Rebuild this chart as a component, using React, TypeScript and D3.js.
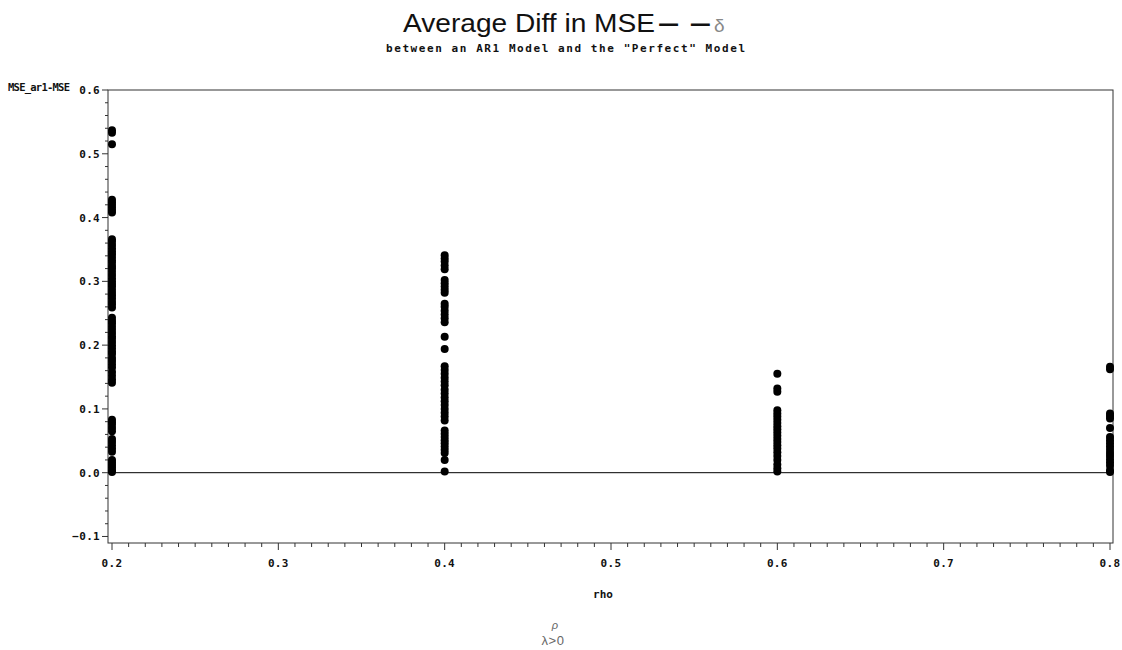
import React from "react";
import * as d3 from "d3";

// Simulated differences in MSE (AR1 fit minus the "perfect" model), grouped by rho
const rhoLevels = [0.2, 0.4, 0.6, 0.8];

const diffRho02 = [
  0.537, 0.533, 0.515, 0.428, 0.424, 0.42, 0.416, 0.412, 0.408, 0.366, 0.362,
  0.357, 0.352, 0.347, 0.343, 0.338, 0.333, 0.329, 0.324, 0.32, 0.315, 0.31,
  0.305, 0.3, 0.296, 0.292, 0.287, 0.282, 0.278, 0.273, 0.268, 0.264, 0.259,
  0.243, 0.238, 0.234, 0.229, 0.224, 0.219, 0.214, 0.21, 0.205, 0.2, 0.195,
  0.19, 0.186, 0.18, 0.175, 0.17, 0.165, 0.158, 0.152, 0.146, 0.141, 0.083,
  0.079, 0.075, 0.07, 0.065, 0.053, 0.048, 0.043, 0.038, 0.033, 0.02, 0.016,
  0.012, 0.008, 0.004, 0.001,
];
const diffRho04 = [
  0.341, 0.336, 0.331, 0.325, 0.319, 0.302, 0.297, 0.292, 0.287, 0.282, 0.265,
  0.26, 0.254, 0.248, 0.242, 0.236, 0.213, 0.194, 0.167, 0.161, 0.155, 0.149,
  0.143, 0.137, 0.13, 0.124, 0.118, 0.112, 0.106, 0.1, 0.094, 0.088, 0.082,
  0.066, 0.061, 0.056, 0.051, 0.046, 0.041, 0.036, 0.031, 0.02, 0.002,
];
const diffRho06 = [
  0.155, 0.132, 0.127, 0.098, 0.093, 0.088, 0.083, 0.078, 0.073, 0.068, 0.063,
  0.058, 0.053, 0.048, 0.043, 0.038, 0.032, 0.026, 0.02, 0.013, 0.007, 0.002,
];
const diffRho08 = [
  0.166, 0.162, 0.093, 0.089, 0.085, 0.07, 0.056, 0.051, 0.046, 0.041, 0.036,
  0.031, 0.026, 0.021, 0.016, 0.011, 0.004, 0.001,
];
const diffsByRho = [diffRho02, diffRho04, diffRho06, diffRho08];

const xTickValues = [0.2, 0.3, 0.4, 0.5, 0.6, 0.7, 0.8];
const yTickValues = [-0.1, 0, 0.1, 0.2, 0.3, 0.4, 0.5, 0.6];

const W = 1122;
const H = 650;
const frame = { left: 108, right: 1113, top: 90, bottom: 543 };

const mono = "'DejaVu Sans Mono', 'Liberation Mono', monospace";
const sans = "'Liberation Sans', Arial, sans-serif";

export default function App() {
  const x = d3.scaleLinear().domain([0.2, 0.8]).range([112, 1110]);
  const y = d3.scaleLinear().domain([0, 0.6]).range([472.7, frame.top]);

  const points = diffsByRho.flatMap((vals, i) =>
    vals.map((v) => ({ rho: rhoLevels[i], v }))
  );

  const xMinor = d3.range(20, 81).map((k) => k / 100).filter((t) => Math.round(t * 100) % 10 !== 0);
  const yMinor = d3.range(-5, 31).map((k) => k / 50).filter((t) => Math.round(t * 50) % 5 !== 0);

  const axisColor = "#333";

  return (
    <svg
      width={W}
      height={H}
      style={{ position: "absolute", left: 0, top: 0, background: "#fff" }}
    >
      {/* titles */}
      <text x={403} y={32} fontFamily={sans} fontSize={25} textLength={252} lengthAdjust="spacingAndGlyphs" fill="#111">
        Average Diff in MSE
      </text>
      <text x={658} y={32} fontFamily={sans} fontSize={25} fontWeight="bold" textLength={53} lengthAdjust="spacingAndGlyphs" fill="#111">
        – –
      </text>
      <text x={714} y={32} fontFamily={sans} fontSize={19} fill="#888">
        δ
      </text>
      <text x={386} y={52} fontFamily={mono} fontSize={11} fontWeight="bold" textLength={359} lengthAdjust="spacing" fill="#111">
        between an AR1 Model and the "Perfect" Model
      </text>

      {/* y axis label */}
      <text x={8} y={91} fontFamily={mono} fontSize={10.5} fontWeight="bold" textLength={62} lengthAdjust="spacing" fill="#111">
        MSE_ar1-MSE
      </text>

      {/* frame */}
      <rect
        x={frame.left}
        y={frame.top}
        width={frame.right - frame.left}
        height={frame.bottom - frame.top}
        fill="none"
        stroke={axisColor}
        strokeWidth={1}
      />

      {/* zero reference line */}
      <line x1={frame.left} x2={frame.right} y1={y(0)} y2={y(0)} stroke="#000" strokeWidth={1} />

      {/* y ticks */}
      {yMinor.map((t) => (
        <line key={`ym${t}`} x1={frame.left - 3} x2={frame.left} y1={y(t)} y2={y(t)} stroke={axisColor} />
      ))}
      {yTickValues.map((t) => (
        <g key={`y${t}`}>
          <line x1={frame.left - 6} x2={frame.left} y1={y(t)} y2={y(t)} stroke={axisColor} />
          <text
            x={frame.left - 8}
            y={y(t) + 4}
            textAnchor="end"
            fontFamily={mono}
            fontSize={11}
            fontWeight="bold"
            letterSpacing={0.3}
            fill="#111"
          >
            {d3.format(".1f")(t)}
          </text>
        </g>
      ))}

      {/* x ticks */}
      {xMinor.map((t) => (
        <line key={`xm${t}`} x1={x(t)} x2={x(t)} y1={frame.bottom} y2={frame.bottom + 4} stroke={axisColor} />
      ))}
      {xTickValues.map((t) => (
        <g key={`x${t}`}>
          <line x1={x(t)} x2={x(t)} y1={frame.bottom} y2={frame.bottom + 7} stroke={axisColor} />
          <text
            x={x(t)}
            y={frame.bottom + 24}
            textAnchor="middle"
            fontFamily={mono}
            fontSize={11}
            fontWeight="bold"
            letterSpacing={0.3}
            fill="#111"
          >
            {d3.format(".1f")(t)}
          </text>
        </g>
      ))}

      {/* x axis label */}
      <text x={603} y={598} textAnchor="middle" fontFamily={mono} fontSize={11} fontWeight="bold" fill="#111">
        rho
      </text>

      {/* footnote */}
      <text x={555} y={629} textAnchor="middle" fontFamily={sans} fontSize={11} fontStyle="italic" fill="#666">
        ρ
      </text>
      <text x={553} y={645} textAnchor="middle" fontFamily={sans} fontSize={13} letterSpacing={0.5} fill="#666">
        λ&gt;0
      </text>

      {/* points */}
      {points.map((p, i) => (
        <circle key={i} cx={x(p.rho)} cy={y(p.v)} r={4} fill="#000" />
      ))}
    </svg>
  );
}
